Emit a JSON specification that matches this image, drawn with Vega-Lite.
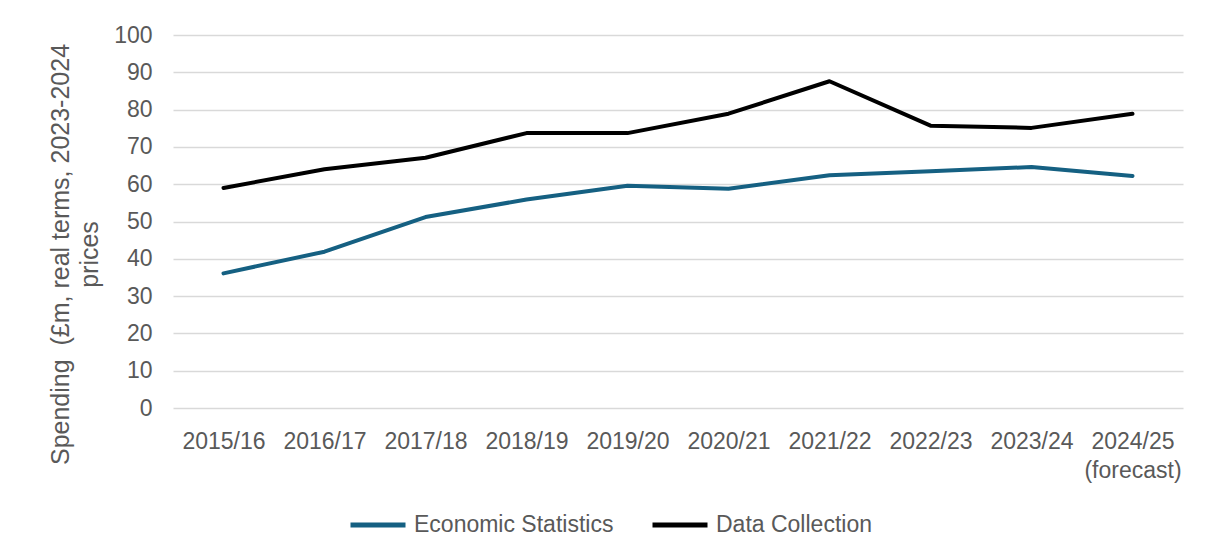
{
  "$schema": "https://vega.github.io/schema/vega-lite/v6.json",
  "width": 1010,
  "height": 373,
  "autosize": {"type": "none"},
  "padding": {"left": 173, "top": 35, "right": 22, "bottom": 150},
  "background": "white",
  "config": {
    "view": {"stroke": null},
    "font": "Liberation Sans",
    "axis": {"labelFont": "Liberation Sans", "titleFont": "Liberation Sans", "labelColor": "#595959", "titleColor": "#595959"},
    "legend": {"labelFont": "Liberation Sans", "labelColor": "#595959"}
  },
  "data": {
    "values": [
      {"year": "2015/16", "series": "Economic Statistics", "value": 36.1},
      {"year": "2016/17", "series": "Economic Statistics", "value": 41.9},
      {"year": "2017/18", "series": "Economic Statistics", "value": 51.2},
      {"year": "2018/19", "series": "Economic Statistics", "value": 55.9},
      {"year": "2019/20", "series": "Economic Statistics", "value": 59.6},
      {"year": "2020/21", "series": "Economic Statistics", "value": 58.8},
      {"year": "2021/22", "series": "Economic Statistics", "value": 62.4},
      {"year": "2022/23", "series": "Economic Statistics", "value": 63.5},
      {"year": "2023/24", "series": "Economic Statistics", "value": 64.6},
      {"year": "2024/25 (forecast)", "series": "Economic Statistics", "value": 62.2},
      {"year": "2015/16", "series": "Data Collection", "value": 59.0},
      {"year": "2016/17", "series": "Data Collection", "value": 64.0},
      {"year": "2017/18", "series": "Data Collection", "value": 67.1},
      {"year": "2018/19", "series": "Data Collection", "value": 73.7},
      {"year": "2019/20", "series": "Data Collection", "value": 73.7},
      {"year": "2020/21", "series": "Data Collection", "value": 78.9},
      {"year": "2021/22", "series": "Data Collection", "value": 87.6},
      {"year": "2022/23", "series": "Data Collection", "value": 75.7},
      {"year": "2023/24", "series": "Data Collection", "value": 75.1},
      {"year": "2024/25 (forecast)", "series": "Data Collection", "value": 78.9}
    ]
  },
  "mark": {"type": "line", "strokeWidth": 4, "strokeCap": "round", "strokeJoin": "round"},
  "encoding": {
    "x": {
      "field": "year",
      "type": "ordinal",
      "sort": null,
      "scale": {"type": "point", "padding": 0.5},
      "axis": {
        "title": null,
        "labelAngle": 0,
        "labelFontSize": 23,
        "labelPadding": 22,
        "labelLineHeight": 29,
        "labelBaseline": "top",
        "labelExpr": "split(datum.value, ' ')",
        "ticks": false,
        "domain": false,
        "grid": false
      }
    },
    "y": {
      "field": "value",
      "type": "quantitative",
      "scale": {"domain": [0, 100], "nice": false},
      "axis": {
        "values": [0, 10, 20, 30, 40, 50, 60, 70, 80, 90, 100],
        "title": ["Spending\u00a0\u00a0(£m, real terms, 2023-2024", "prices"],
        "titleFontSize": 25,
        "titleFontWeight": "normal",
        "titleLineHeight": 29,
        "titleAngle": -90,
        "titleAlign": "center",
        "titleBaseline": "top",
        "titleX": -125,
        "titleY": 219,
        "labelFontSize": 23,
        "labelPadding": 21,
        "ticks": false,
        "domain": false,
        "grid": true,
        "gridColor": "#d9d9d9",
        "gridWidth": 1.3
      }
    },
    "color": {
      "field": "series",
      "type": "nominal",
      "scale": {"domain": ["Economic Statistics", "Data Collection"], "range": ["#156082", "#000000"]},
      "legend": {
        "title": null,
        "orient": "none",
        "direction": "horizontal",
        "legendX": 175,
        "legendY": 460,
        "symbolType": "stroke",
        "symbolSize": 3025,
        "symbolStrokeWidth": 5,
        "labelFontSize": 23,
        "labelOffset": 6,
        "labelLimit": 400,
        "columnPadding": 28
      }
    }
  }
}
